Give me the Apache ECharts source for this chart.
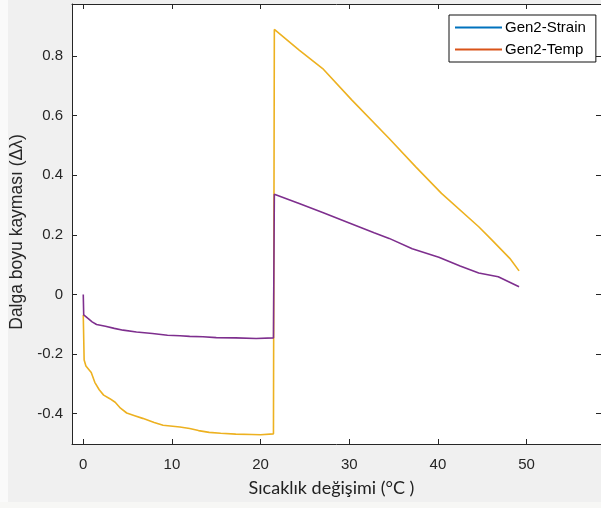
<!DOCTYPE html>
<html>
<head>
<meta charset="utf-8">
<script src="https://cdn.jsdelivr.net/npm/echarts@6/dist/echarts.min.js"></script>
<style>
html,body{margin:0;padding:0;background:#ffffff;}
#chart{width:601px;height:508px;}
</style>
</head>
<body>
<div id="chart"></div>
<script>
// Purple curve
const purpleX = [0, 0.05, 0.5, 1, 1.5, 2.5, 3.5, 4.5, 6, 7.8, 9.5, 10.9, 12, 13.5, 15, 17.2, 19.5, 21.45,
  21.55, 24.35, 27, 30, 32.8, 34.5, 37.1, 40.1, 42.5, 44.6, 46.8, 49.15];
const purpleY = [0, -0.069, -0.08, -0.092, -0.101, -0.107, -0.114, -0.12, -0.126, -0.131, -0.137, -0.139, -0.141, -0.142, -0.145, -0.146, -0.148, -0.146,
  0.336, 0.305, 0.275, 0.24, 0.207, 0.188, 0.153, 0.125, 0.095, 0.072, 0.059, 0.026];
// Yellow curve
const yellowX = [0, 0.1, 0.3, 0.9, 1.3, 1.8, 2.3, 3, 3.6, 4.2, 4.9, 5.8, 6.7, 8, 9, 10.9, 12, 13, 14.2, 15.5, 17.2, 19, 20, 21.45,
  21.55, 24.35, 27, 30.3, 34.5, 37.5, 40.4, 44.6, 46.1, 48.1, 49.15];
const yellowY = [-0.069, -0.22, -0.24, -0.262, -0.295, -0.32, -0.338, -0.35, -0.362, -0.382, -0.398, -0.407, -0.416, -0.43, -0.439, -0.445, -0.45, -0.457, -0.463, -0.466, -0.469, -0.47, -0.471, -0.468,
  0.889, 0.82, 0.758, 0.652, 0.523, 0.428, 0.339, 0.227, 0.182, 0.121, 0.079];
const xTicks = [0, 10, 20, 30, 40, 50];
const yTicks = [-0.4, -0.2, 0, 0.2, 0.4, 0.6, 0.8];
const legendNames = ['Gen2-Strain', 'Gen2-Temp'];
const xTitle = 'Sıcaklık değişimi (°C )';
const yTitle = 'Dalga boyu kayması (Δλ)';

const pair = (xs, ys) => xs.map((x, i) => [x, ys[i]]);
const axisCol = '#262626';
const font = '"Liberation Sans", Arial, sans-serif';
const xMin = -1.27, xMax = 58.39, yMin = -0.502, yMax = 0.9745;

const chart = echarts.init(document.getElementById('chart'), null, {renderer: 'canvas'});
const baseTick = {show: true, inside: true, length: 5, lineStyle: {color: axisCol, width: 1}};
chart.setOption({
  animation: false,
  backgroundColor: '#f0f0f0',
  graphic: [
    {type: 'rect', left: 0, top: 0, shape: {width: 8, height: 508}, style: {fill: '#fafafa'}, z: -10},
    {type: 'rect', left: 0, top: 502, shape: {width: 601, height: 6}, style: {fill: '#f7f7f5'}, z: -10}
  ],
  grid: {left: 72, top: 4, width: 531, height: 440, show: true, backgroundColor: '#ffffff', borderWidth: 0, containLabel: false},
  legend: {
    data: legendNames,
    orient: 'vertical',
    left: 449, top: 15,
    icon: 'rect', itemWidth: 47, itemHeight: 2, itemGap: 7,
    padding: [5, 10, 5, 6],
    backgroundColor: '#ffffff', borderColor: '#111', borderWidth: 1,
    textStyle: {fontSize: 15, color: '#000', fontFamily: font, padding: [0, 0, 0, -2]}
  },
  xAxis: [{
    type: 'value', min: xMin, max: xMax, position: 'bottom',
    name: xTitle, nameLocation: 'middle', nameGap: 35,
    nameTextStyle: {fontSize: 18, color: '#222', fontFamily: 'Lato, "Open Sans", sans-serif', padding: [0, 10, 0, 0]},
    axisLine: {show: true, onZero: false, lineStyle: {color: axisCol, width: 1}},
    axisTick: Object.assign({customValues: xTicks}, baseTick),
    axisLabel: {customValues: xTicks, margin: 13, fontSize: 15, color: axisCol, fontFamily: font},
    splitLine: {show: false}
  }, {
    type: 'value', min: xMin, max: xMax, position: 'top',
    axisLine: {show: true, onZero: false, lineStyle: {color: axisCol, width: 1}},
    axisTick: Object.assign({customValues: xTicks}, baseTick),
    axisLabel: {show: false},
    splitLine: {show: false}
  }],
  yAxis: [{
    type: 'value', min: yMin, max: yMax, position: 'left',
    name: yTitle, nameLocation: 'middle', nameGap: 39, nameRotate: 90,
    nameTextStyle: {fontSize: 17.5, color: axisCol, fontFamily: font, padding: [0, 16, 0, 0]},
    axisLine: {show: true, onZero: false, lineStyle: {color: axisCol, width: 1}},
    axisTick: Object.assign({customValues: yTicks}, baseTick),
    axisLabel: {customValues: yTicks, margin: 9, fontSize: 15, color: axisCol, fontFamily: font},
    splitLine: {show: false}
  }, {
    type: 'value', min: yMin, max: yMax, position: 'right',
    axisLine: {show: true, onZero: false, lineStyle: {color: axisCol, width: 1}},
    axisTick: Object.assign({customValues: yTicks}, baseTick),
    axisLabel: {show: false},
    splitLine: {show: false}
  }],
  series: [
    {name: 'Gen2-Strain', type: 'line', data: [], color: '#0072BD', showSymbol: false},
    {name: 'Gen2-Temp', type: 'line', data: [], color: '#D95319', showSymbol: false},
    {name: 'yellow', type: 'line', data: pair(yellowX, yellowY), showSymbol: false, color: '#EDB120',
      lineStyle: {width: 1.6, color: '#EDB120'}, z: 3},
    {name: 'purple', type: 'line', data: pair(purpleX, purpleY), showSymbol: false, color: '#7E2F8E',
      lineStyle: {width: 1.6, color: '#7E2F8E'}, z: 4}
  ]
});
</script>
</body>
</html>
